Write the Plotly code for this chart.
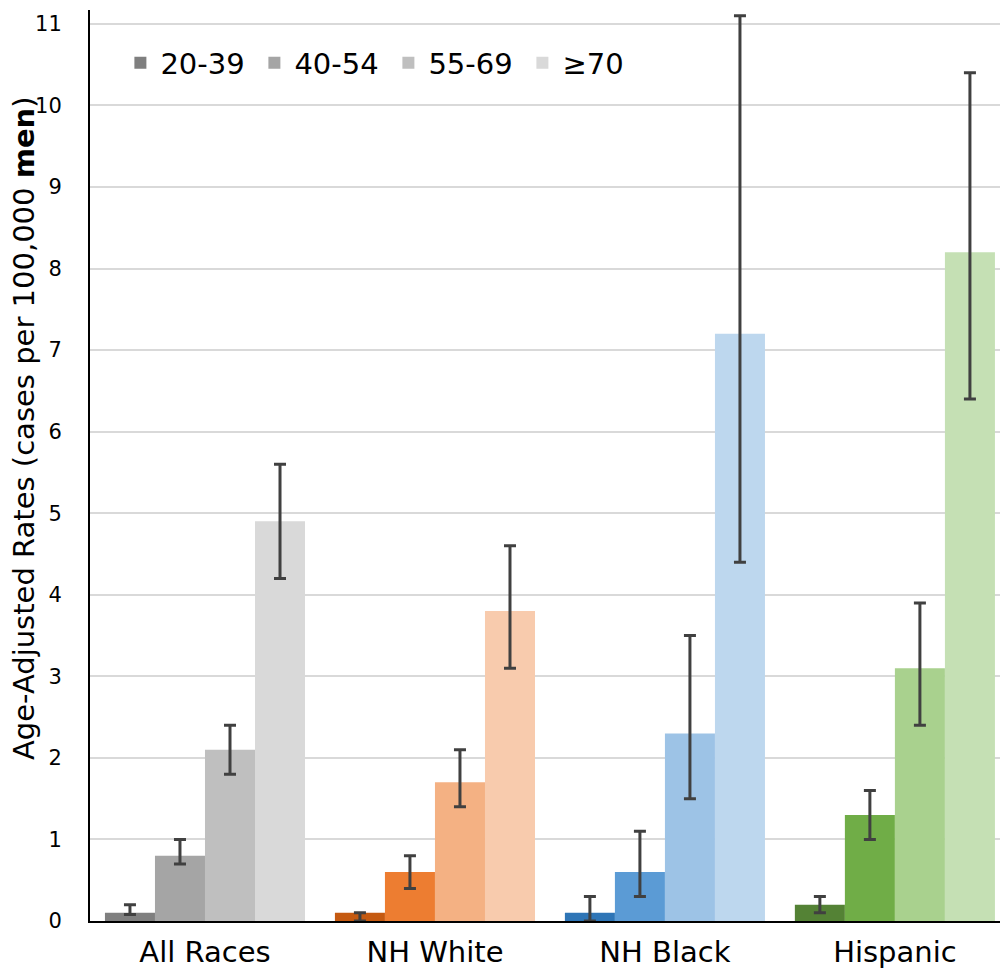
import plotly.graph_objects as go

categories = ["All Races", "NH White", "NH Black", "Hispanic"]
age_groups = ["20-39", "40-54", "55-69", "≥70"]

# rates per age group (one list per age group, across categories)
rate_20_39 = [0.1, 0.1, 0.1, 0.2]
rate_40_54 = [0.8, 0.6, 0.6, 1.3]
rate_55_69 = [2.1, 1.7, 2.3, 3.1]
rate_70 = [4.9, 3.8, 7.2, 8.2]

# confidence interval bounds
low_20_39 = [0.08, 0.0, 0.0, 0.1]
high_20_39 = [0.2, 0.1, 0.3, 0.3]
low_40_54 = [0.7, 0.4, 0.3, 1.0]
high_40_54 = [1.0, 0.8, 1.1, 1.6]
low_55_69 = [1.8, 1.4, 1.5, 2.4]
high_55_69 = [2.4, 2.1, 3.5, 3.9]
low_70 = [4.2, 3.1, 4.4, 6.4]
high_70 = [5.6, 4.6, 11.1, 10.4]

colors_20_39 = ["#7f7f7f", "#c55a11", "#2e75b6", "#548235"]
colors_40_54 = ["#a5a5a5", "#ed7d31", "#5b9bd5", "#70ad47"]
colors_55_69 = ["#bfbfbf", "#f4b183", "#9dc3e6", "#a9d18e"]
colors_70 = ["#d9d9d9", "#f8cbad", "#bdd7ee", "#c5e0b4"]

series = [
    (age_groups[0], rate_20_39, low_20_39, high_20_39, colors_20_39),
    (age_groups[1], rate_40_54, low_40_54, high_40_54, colors_40_54),
    (age_groups[2], rate_55_69, low_55_69, high_55_69, colors_55_69),
    (age_groups[3], rate_70, low_70, high_70, colors_70),
]

fig = go.Figure()
for name, vals, lo, hi, cols in series:
    fig.add_trace(go.Bar(
        name=name,
        x=categories,
        y=vals,
        marker=dict(color=cols, line=dict(width=0)),
        error_y=dict(
            type="data",
            symmetric=False,
            array=[h - v for h, v in zip(hi, vals)],
            arrayminus=[v - l for v, l in zip(vals, lo)],
            color="#404040",
            thickness=3,
            width=6,
        ),
    ))

fig.update_layout(
    width=1000,
    height=969,
    margin=dict(l=90, r=0, t=10, b=48),
    plot_bgcolor="white",
    paper_bgcolor="white",
    barmode="group",
    bargap=0.13,
    bargroupgap=0,
    font=dict(family="DejaVu Sans", color="#000000"),
    legend=dict(
        orientation="h",
        x=0.0334,
        y=0.97,
        xanchor="left",
        yanchor="top",
        font=dict(size=29, family="DejaVu Sans"),
        bgcolor="rgba(0,0,0,0)",
        traceorder="normal",
        entrywidth=89,
        entrywidthmode="pixels",
    ),
    showlegend=True,
)

fig.update_xaxes(
    range=[-0.5, 3.457],
    showline=True,
    linecolor="#000000",
    linewidth=2,
    showgrid=False,
    ticks="",
    ticklabelstandoff=4,
    tickfont=dict(size=29, family="DejaVu Sans"),
)
fig.update_yaxes(
    range=[0, 11.17],
    tickmode="array",
    tickvals=list(range(0, 12)),
    ticktext=[str(v) for v in range(0, 12)],
    showline=True,
    linecolor="#000000",
    linewidth=2,
    showgrid=True,
    gridcolor="#d9d9d9",
    gridwidth=2,
    zeroline=False,
    ticks="",
    ticklabelstandoff=22,
    tickfont=dict(size=21, family="DejaVu Sans"),
)

fig.add_annotation(
    text="Age-Adjusted Rates (cases per 100,000 <b>men</b>)",
    xref="paper", yref="paper",
    x=(24 - 90) / 910, y=(921 - 428) / 911,
    xanchor="center", yanchor="middle",
    textangle=-90,
    showarrow=False,
    font=dict(size=29, family="DejaVu Sans", color="#000000"),
)

fig.write_html("out.html")
